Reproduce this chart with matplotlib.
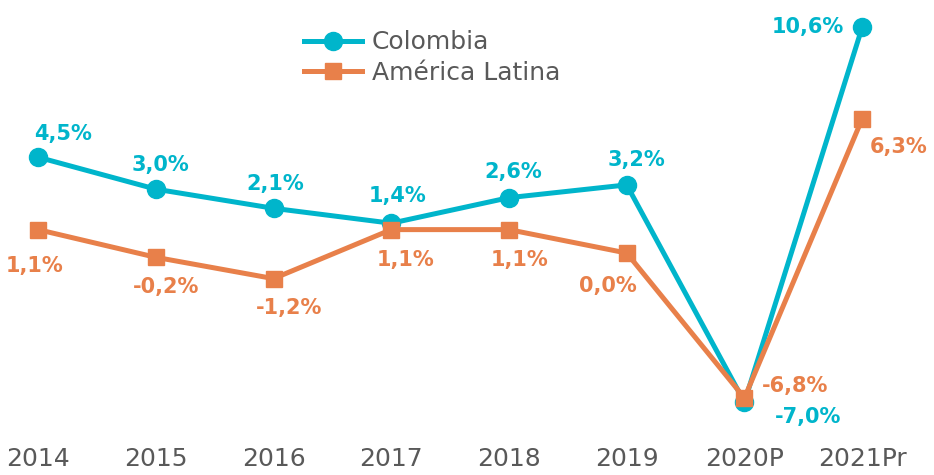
import numpy as np
import matplotlib.pyplot as plt

years = ["2014", "2015", "2016", "2017", "2018", "2019", "2020P", "2021Pr"]
colombia = [4.5, 3.0, 2.1, 1.4, 2.6, 3.2, -7.0, 10.6]
latam = [1.1, -0.2, -1.2, 1.1, 1.1, 0.0, -6.8, 6.3]

# label offsets in pixels (dx, dy)
col_off = [(25, 23), (5, 24), (2, 24), (6, 27), (4, 26), (10, 25), (64, -15), (-54, 0)]
lat_off = [(-3, -36), (10, -30), (16, -29), (14, -30), (11, -30), (-19, -33), (51, 12), (36, -28)]

teal = "#00B5CB"
orange = "#E8804A"
grey = "#595959"

plt.rcParams['font.family'] = ['DejaVu Sans']

fig = plt.figure(figsize=(9.34, 4.75), dpi=100)
ax = fig.add_axes([0, 0, 1, 1])
x = np.arange(len(years))

ax.plot(x, colombia, color=teal, lw=3.6, marker="o", ms=13, label="Colombia", zorder=3)
ax.plot(x, latam, color=orange, lw=3.6, marker="s", ms=12, label="América Latina", zorder=4)

def fmt(v):
    return ("%.1f%%" % v).replace(".", ",")

for i in range(len(years)):
    dx, dy = col_off[i]
    ax.annotate(fmt(colombia[i]), (x[i], colombia[i]), xytext=(dx, dy),
                textcoords="offset pixels", ha="center", va="center",
                color=teal, fontsize=15, fontweight="bold")
    dx, dy = lat_off[i]
    ax.annotate(fmt(latam[i]), (x[i], latam[i]), xytext=(dx, dy),
                textcoords="offset pixels", ha="center", va="center",
                color=orange, fontsize=15, fontweight="bold")

for i, yr in enumerate(years):
    ax.text(x[i], -9.65, yr, ha="center", va="center", color=grey, fontsize=18)

ax.set_xlim(-0.323, 7.61)
ax.set_ylim(-10.42, 11.88)
ax.axis("off")

leg = ax.legend(loc="upper left", bbox_to_anchor=(0.326, 0.936), frameon=False,
                fontsize=18, handlelength=2.3, labelspacing=0.25, handletextpad=0.4,
                borderpad=0, borderaxespad=0)
for t in leg.get_texts():
    t.set_color(grey)

fig.savefig("out.png", dpi=100)
